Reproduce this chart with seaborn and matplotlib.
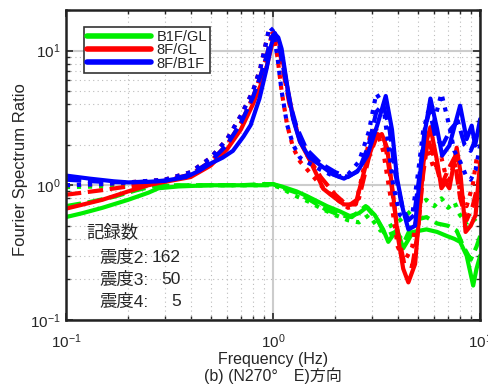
import numpy as np
import pandas as pd
import matplotlib
matplotlib.use("Agg")
import matplotlib.pyplot as plt
import seaborn as sns
from matplotlib.ticker import LogLocator, NullFormatter

# ── Data ─────────────────────────────────────────────────────────────────────
# B1F/GL
g2_f = [0.1, 0.12, 0.15, 0.2, 0.25, 0.28, 0.35, 0.5, 0.7, 0.9, 1.0, 1.1, 1.3, 1.46, 1.82,
        2.1, 2.35, 2.6, 2.84, 3.1, 3.4, 3.6, 3.97, 4.25, 4.74, 5.5, 6.2, 6.9, 7.5, 8.0,
        8.6, 9.25, 9.6, 10]
g2_v = [0.58, 0.62, 0.68, 0.78, 0.88, 0.95, 0.98, 1.0, 1.0, 1.0, 1.02, 0.98, 0.9, 0.83, 0.7,
        0.64, 0.59, 0.62, 0.69, 0.6, 0.47, 0.38, 0.47, 0.34, 0.45, 0.47, 0.45, 0.42, 0.4, 0.38,
        0.3, 0.18, 0.24, 0.3]
g3_f = [0.1, 0.13, 0.17, 0.22, 0.27, 0.35, 0.5, 0.7, 0.9, 1.0, 1.1, 1.3, 1.5, 1.8, 2.1,
        2.4, 2.8, 3.2, 3.5, 3.9, 4.3, 4.8, 5.5, 6.2, 7.0, 7.7, 8.3, 9.0, 9.6, 10]
g3_v = [0.7, 0.75, 0.82, 0.92, 0.99, 1.0, 1.0, 1.0, 1.02, 1.02, 0.96, 0.88, 0.78, 0.66, 0.6,
        0.58, 0.7, 0.55, 0.42, 0.45, 0.38, 0.55, 0.58, 0.52, 0.5, 0.46, 0.35, 0.28, 0.35, 0.42]
g4_f = [0.1, 0.15, 0.2, 0.3, 0.5, 0.7, 0.9, 1.0, 1.1, 1.25, 1.5, 1.75, 2.0, 2.3, 2.6,
        2.9, 3.3, 3.7, 4.1, 4.5, 5.0, 5.5, 6.0, 6.5, 7.0, 7.5, 8.0, 8.7, 9.3, 10]
g4_v = [0.97, 0.98, 0.98, 0.99, 1.0, 1.0, 1.0, 1.0, 0.95, 0.85, 0.75, 0.66, 0.6, 0.55, 0.53,
        0.6, 0.46, 0.5, 0.55, 0.62, 0.72, 0.78, 0.7, 0.8, 0.68, 0.75, 0.6, 0.5, 0.55, 0.6]

# 8F/GL
r2_f = [0.1, 0.15, 0.2, 0.25, 0.3, 0.4, 0.5, 0.6, 0.7, 0.8, 0.87, 0.93, 0.98, 1.02, 1.07,
        1.12, 1.18, 1.25, 1.35, 1.5, 1.75, 2.0, 2.2, 2.5, 2.8, 3.1, 3.35, 3.55, 3.8, 4.0,
        4.25, 4.5, 4.85, 5.1, 5.4, 5.75, 6.2, 6.5, 6.8, 7.1, 7.7, 8.0, 8.5, 9.0, 9.5, 10]
r2_v = [0.67, 0.78, 0.9, 1.0, 1.06, 1.15, 1.4, 1.85, 2.6, 4.0, 5.5, 7.5, 10.5, 12.8, 11.5,
        8.0, 5.0, 3.2, 2.1, 1.55, 0.94, 0.8, 0.72, 0.72, 1.4, 2.2, 2.4, 1.9, 0.85, 0.42,
        0.24, 0.19, 0.26, 0.65, 1.9, 2.7, 1.5, 0.95, 1.05, 0.95, 1.9, 1.3, 0.45, 0.5, 0.6, 1.5]
r3_f = [0.1, 0.15, 0.2, 0.25, 0.3, 0.4, 0.5, 0.6, 0.7, 0.8, 0.87, 0.93, 0.98, 1.02, 1.07,
        1.12, 1.2, 1.3, 1.45, 1.7, 2.0, 2.3, 2.6, 2.9, 3.2, 3.45, 3.7, 4.0, 4.3, 4.7,
        5.0, 5.3, 5.6, 6.0, 6.5, 7.0, 7.5, 8.0, 8.6, 9.2, 10]
r3_v = [0.85, 0.92, 0.98, 1.02, 1.08, 1.2, 1.5, 2.0, 2.9, 4.5, 6.5, 9.0, 12.5, 13.0, 10.5,
        7.0, 4.0, 2.6, 1.7, 1.15, 0.85, 0.7, 0.8, 1.6, 2.4, 2.2, 1.1, 0.45, 0.26, 0.25,
        0.45, 1.2, 2.2, 1.6, 1.0, 1.3, 1.6, 0.8, 0.55, 0.7, 1.2]
r4_f = [0.1, 0.15, 0.2, 0.3, 0.4, 0.5, 0.6, 0.7, 0.8, 0.87, 0.92, 0.96, 1.0, 1.05, 1.1,
        1.17, 1.25, 1.35, 1.5, 1.75, 2.0, 2.3, 2.5, 2.7, 2.95, 3.15, 3.4, 3.7, 4.0, 4.3,
        4.7, 5.0, 5.3, 5.6, 6.0, 6.5, 7.0, 7.5, 8.0, 8.6, 9.2, 9.6, 10]
r4_v = [1.0, 1.02, 1.05, 1.1, 1.25, 1.6, 2.2, 3.3, 5.0, 7.5, 11.0, 14.5, 13.5, 9.0, 5.0,
        2.8, 1.9, 1.5, 1.25, 0.95, 0.8, 0.68, 0.7, 1.2, 2.4, 2.6, 1.8, 0.8, 0.35, 0.27,
        0.35, 0.7, 1.5, 1.8, 1.3, 1.6, 1.0, 1.5, 0.9, 0.7, 1.0, 1.56, 1.4]

# 8F/B1F
b2_f = [0.1, 0.13, 0.17, 0.2, 0.25, 0.3, 0.38, 0.44, 0.5, 0.57, 0.64, 0.72, 0.78, 0.86,
        0.93, 0.98, 1.02, 1.06, 1.1, 1.17, 1.25, 1.35, 1.5, 1.65, 1.95, 2.2, 2.55, 2.85,
        3.18, 3.5, 3.75, 3.97, 4.24, 4.5, 4.85, 5.1, 5.43, 5.75, 6.2, 6.55, 7.1, 8.0, 8.6,
        9.1, 9.45, 10]
b2_v = [1.18, 1.12, 1.07, 1.05, 1.06, 1.08, 1.15, 1.28, 1.45, 1.6, 1.8, 2.3, 2.8, 4.4,
        7.3, 11.0, 13.3, 12.5, 10.3, 5.5, 3.1, 2.1, 1.6, 1.45, 1.2, 1.12, 1.26, 1.66,
        2.77, 4.6, 2.6, 1.12, 0.66, 0.47, 0.5, 1.12, 2.6, 4.4, 2.6, 1.66, 1.97, 3.9, 2.2,
        2.77, 1.97, 3.1]
b3_f = [0.1, 0.15, 0.2, 0.3, 0.4, 0.5, 0.6, 0.7, 0.8, 0.87, 0.93, 0.98, 1.02, 1.07, 1.12,
        1.2, 1.3, 1.45, 1.7, 2.0, 2.3, 2.6, 2.9, 3.15, 3.4, 3.65, 3.9, 4.2, 4.5, 4.8,
        5.1, 5.4, 5.7, 6.1, 6.6, 7.2, 7.8, 8.4, 9.0, 9.5, 10]
b3_v = [1.1, 1.06, 1.05, 1.08, 1.2, 1.5, 2.0, 2.9, 4.5, 6.5, 9.0, 12.5, 13.5, 11.0, 7.5,
        4.2, 2.7, 1.85, 1.45, 1.25, 1.15, 1.3, 2.0, 3.5, 4.0, 2.6, 1.2, 0.7, 0.55, 0.6,
        1.2, 2.6, 3.6, 2.2, 2.0, 2.6, 3.0, 2.0, 1.8, 2.2, 2.6]
b4_f = [0.1, 0.15, 0.2, 0.3, 0.4, 0.5, 0.6, 0.7, 0.8, 0.87, 0.92, 0.96, 1.0, 1.05, 1.1,
        1.17, 1.25, 1.35, 1.5, 1.7, 2.0, 2.3, 2.6, 2.9, 3.15, 3.4, 3.6, 3.8, 4.1, 4.4,
        4.7, 5.0, 5.3, 5.6, 6.0, 6.5, 7.0, 7.5, 8.0, 8.5, 9.0, 9.5, 10]
b4_v = [1.0, 1.02, 1.05, 1.1, 1.25, 1.6, 2.2, 3.3, 5.0, 7.5, 11.0, 15.0, 14.0, 9.0, 5.0,
        2.8, 2.0, 1.6, 1.45, 1.3, 1.15, 1.2, 1.5, 2.5, 4.8, 4.0, 2.0, 1.0, 0.6, 0.55,
        0.6, 1.2, 2.5, 3.5, 3.0, 4.8, 3.0, 1.8, 1.5, 1.2, 1.1, 1.3, 2.0]

ratio_labels = ["B1F/GL", "8F/GL", "8F/B1F"]
ratio_colors = ["#00ee00", "#ff0000", "#0000ff"]
record_labels = ["震度2:", "震度3:", "震度4:"]
record_counts = [162, 50, 5]

series = [
    (g2_f, g2_v, 0, "-"), (g3_f, g3_v, 0, "--"), (g4_f, g4_v, 0, ":"),
    (r2_f, r2_v, 1, "-"), (r3_f, r3_v, 1, "--"), (r4_f, r4_v, 1, ":"),
    (b2_f, b2_v, 2, "-"), (b3_f, b3_v, 2, "--"), (b4_f, b4_v, 2, ":"),
]

# ── Plot ─────────────────────────────────────────────────────────────────────
sns.set_style("ticks")
plt.rcParams["font.family"] = ["Liberation Sans", "Noto Sans CJK JP", "DejaVu Sans"]
plt.rcParams["mathtext.fontset"] = "custom"
plt.rcParams["mathtext.rm"] = "Liberation Sans"
plt.rcParams["mathtext.it"] = "Liberation Sans:italic"
plt.rcParams["mathtext.bf"] = "Liberation Sans:bold"

fig = plt.figure(figsize=(4.88, 3.85), dpi=100)
ax = fig.add_axes([0.135, 0.169, 0.849, 0.805])

for f, v, ci, ls in series:
    df = pd.DataFrame({"f": f, "v": v})
    sns.lineplot(data=df, x="f", y="v", color=ratio_colors[ci], linestyle=ls,
                 lw=3, ax=ax, estimator=None, sort=False,
                 label=ratio_labels[ci] if ls == "-" else None)

ax.set_xscale("log")
ax.set_yscale("log")
ax.set_xlim(0.1, 10)
ax.set_ylim(0.1, 20)

ax.xaxis.set_minor_locator(LogLocator(base=10, subs=np.arange(2, 10)))
ax.yaxis.set_minor_locator(LogLocator(base=10, subs=np.arange(2, 10)))
ax.xaxis.set_minor_formatter(NullFormatter())
ax.yaxis.set_minor_formatter(NullFormatter())

ax.grid(which="major", color="#cccccc", lw=1.5, ls="-")
ax.grid(which="minor", color="#bbbbbb", lw=0.8, ls=(0, (1, 3)))
ax.set_axisbelow(True)

ax.tick_params(which="both", direction="in", top=True, right=True, labelsize=11)
ax.tick_params(which="major", length=5, width=1.2)
ax.tick_params(which="minor", length=3, width=1)
ax.tick_params(axis="x", which="major", pad=9)
ax.tick_params(axis="y", which="major", pad=4)
for sp in ax.spines.values():
    sp.set_linewidth(1.8)
    sp.set_color("#222222")

ax.set_xlabel("Frequency (Hz)\n(b) (N270°\u3000E)方向", fontsize=11.5, labelpad=1,
              linespacing=1.0)
ax.set_ylabel("Fourier Spectrum Ratio", fontsize=12)
ax.yaxis.set_label_coords(-0.092, 0.484)

leg = ax.legend(loc="upper left", bbox_to_anchor=(0.043, 0.945), fontsize=10.5,
                frameon=True, fancybox=False, edgecolor="#333333", framealpha=1,
                handlelength=4.4, borderpad=0.2, labelspacing=-0.05, handletextpad=0.4,
                borderaxespad=0)
leg.get_frame().set_linewidth(1.2)
for line in leg.get_lines():
    line.set_linewidth(4)

ax.text(0.05, 0.284, "記録数", transform=ax.transAxes, fontsize=12.5, va="center")
for i, (lab, n) in enumerate(zip(record_labels, record_counts)):
    y = 0.2 - i * 0.071
    ax.text(0.082, y, lab, transform=ax.transAxes, fontsize=12.5, va="center")
    ax.text(0.278, y, str(n), transform=ax.transAxes, fontsize=12.5, va="center", ha="right")

fig.savefig("out.png", dpi=100)
